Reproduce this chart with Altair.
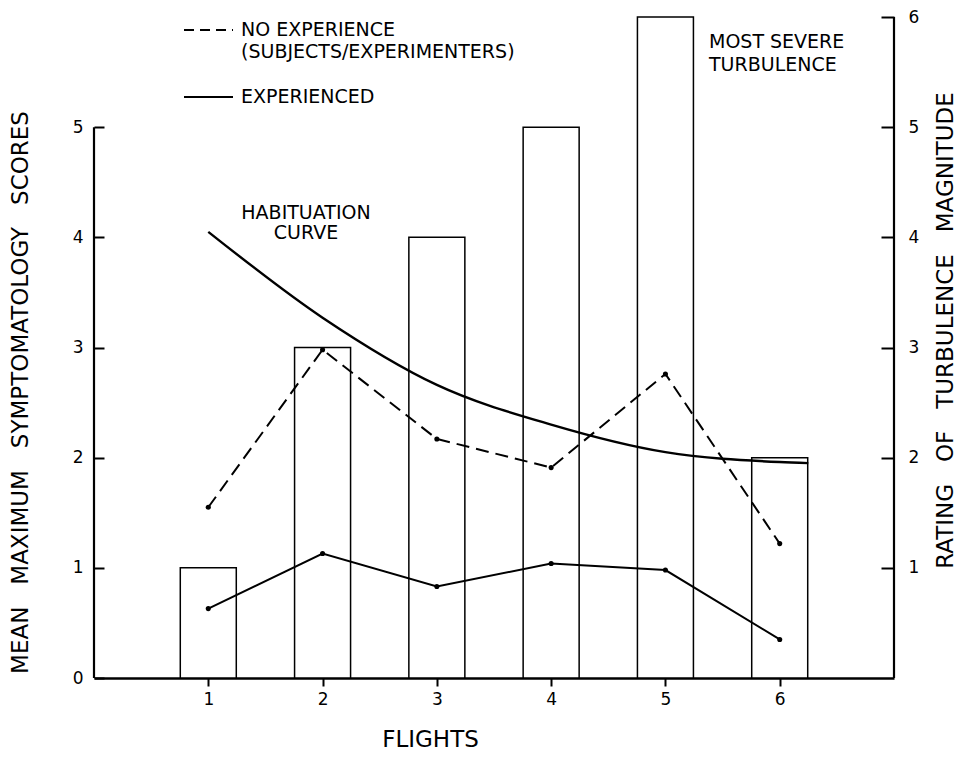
import altair as alt
import pandas as pd

# ---------------- data ----------------
flights = [1, 2, 3, 4, 5, 6]
turbulence_rating = [1, 3, 4, 5, 6, 2]
no_experience = [1.55, 2.98, 2.17, 1.91, 2.76, 1.22]
experienced = [0.63, 1.13, 0.83, 1.04, 0.98, 0.35]
habituation_flights = [1, 2, 3, 4, 5, 6, 6.25]
habituation_scores = [4.05, 3.27, 2.66, 2.30, 2.05, 1.96, 1.95]

x_ticks = [1, 2, 3, 4, 5, 6]
left_ticks = [0, 1, 2, 3, 4, 5]
right_ticks = [1, 2, 3, 4, 5, 6]
x_domain = [0, 7]
left_domain = [0, 6]
right_domain = [0, 6]

LEFT_TITLE = "MEAN\u00a0\u00a0\u00a0MAXIMUM\u00a0\u00a0\u00a0SYMPTOMATOLOGY\u00a0\u00a0\u00a0SCORES"
RIGHT_TITLE = "RATING\u00a0\u00a0\u00a0OF\u00a0\u00a0\u00a0TURBULENCE\u00a0\u00a0\u00a0MAGNITUDE"

FONT = "DejaVu Sans"
BAR_HALF = 0.245

bars_df = pd.DataFrame({"flight": flights, "rating": turbulence_rating})
lines_df = pd.concat([
    pd.DataFrame({"flight": flights, "score": no_experience, "series": "none"}),
    pd.DataFrame({"flight": flights, "score": experienced, "series": "exp"}),
])
hab_df = pd.DataFrame({"flight": habituation_flights, "score": habituation_scores})
left_line_df = pd.DataFrame({"flight": [x_domain[0]] * 2, "score": [left_ticks[0], left_ticks[-1]]})
right_line_df = pd.DataFrame({"flight": [x_domain[1]] * 2, "rating": [right_domain[0], right_domain[1]]})
one = pd.DataFrame({"a": [0]})

# ---------------- scales / axes ----------------
x_scale = alt.Scale(domain=x_domain, nice=False, zero=False)
x_axis = alt.Axis(values=x_ticks, format="d", tickSize=8, tickWidth=2, labelPadding=5,
                  domainWidth=2.5, grid=False, title="FLIGHTS", titleX=336, titleY=61,
                  titleAlign="center", titleBaseline="middle")

left_scale = alt.Scale(domain=left_domain, nice=False)
left_axis = alt.Axis(orient="left", values=left_ticks, format="d", offset=-10, tickSize=10,
                     tickWidth=2, domain=False, labelPadding=11, grid=False,
                     title=LEFT_TITLE, titleX=-84, titleY=375, titleAngle=270,
                     titleAlign="center", titleBaseline="middle")

right_scale = alt.Scale(domain=right_domain, nice=False)
right_axis = alt.Axis(orient="right", values=right_ticks, format="d", offset=-13, tickSize=13,
                      tickWidth=2, domain=False, labelPadding=14, grid=False,
                      title=RIGHT_TITLE, titleX=64, titleY=313, titleAngle=270,
                      titleAlign="center", titleBaseline="middle")


def X(field):
    return alt.X(f"{field}:Q", scale=x_scale, axis=x_axis)


def YL(field):
    return alt.Y(f"{field}:Q", scale=left_scale, axis=left_axis)


def YR(field):
    return alt.Y(f"{field}:Q", scale=right_scale, axis=right_axis)


# ---------------- right-scale group ----------------
bars = alt.Chart(bars_df).transform_calculate(
    x0=f"datum.flight - {BAR_HALF}", x1=f"datum.flight + {BAR_HALF}"
).mark_bar(fill="white", stroke="black", strokeWidth=1.5).encode(
    x=X("x0"), x2=alt.X2("x1:Q"), y=YR("rating"), y2=alt.Y2(datum=0)
)
right_line = alt.Chart(right_line_df).mark_line(color="black", strokeWidth=2.2).encode(
    x=X("flight"), y=YR("rating")
)
right_group = alt.layer(bars, right_line)

# ---------------- left-scale group ----------------
hab = alt.Chart(hab_df).mark_line(color="black", strokeWidth=2.4, interpolate="monotone").encode(
    x=X("flight"), y=YL("score")
)
noexp_line = alt.Chart(lines_df).transform_filter("datum.series == 'none'").mark_line(
    color="black", strokeWidth=2, strokeDash=[13, 7]
).encode(x=X("flight"), y=YL("score"))
exp_line = alt.Chart(lines_df).transform_filter("datum.series == 'exp'").mark_line(
    color="black", strokeWidth=2
).encode(x=X("flight"), y=YL("score"))
pts = alt.Chart(lines_df).mark_circle(color="black", size=26, opacity=1).encode(
    x=X("flight"), y=YL("score")
)
left_line = alt.Chart(left_line_df).mark_line(color="black", strokeWidth=2.2).encode(
    x=X("flight"), y=YL("score")
)


def txt(label, x, y, align="left", size=19):
    return alt.Chart(one).mark_text(font=FONT, fontSize=size, color="black", align=align,
                                    baseline="middle").encode(
        x=alt.value(x), y=alt.value(y), text=alt.value(label))


legend_dash = alt.Chart(one).mark_rule(color="black", strokeWidth=2, strokeDash=[10, 6]).encode(
    x=alt.value(90), x2=alt.value(139), y=alt.value(13))
legend_solid = alt.Chart(one).mark_rule(color="black", strokeWidth=2).encode(
    x=alt.value(90), x2=alt.value(139), y=alt.value(80))

texts = [
    txt("NO EXPERIENCE", 147, 13),
    txt("(SUBJECTS/EXPERIMENTERS)", 147, 35),
    txt("EXPERIENCED", 147, 80),
    txt("MOST SEVERE", 615, 25),
    txt("TURBULENCE", 615, 48),
    txt("HABITUATION", 212, 196, align="center"),
    txt("CURVE", 212, 216, align="center"),
]

left_group = alt.layer(hab, noexp_line, exp_line, pts, left_line, legend_dash, legend_solid, *texts)

chart = alt.layer(right_group, left_group).resolve_scale(y="independent").properties(
    width=800, height=661,
    padding={"left": 86, "top": 9, "right": 62, "bottom": 74},
    autosize="none",
    background="white",
).configure_view(stroke=None).configure_axis(
    labelFont=FONT, labelFontSize=17, labelColor="black",
    titleFont=FONT, titleFontSize=23, titleFontWeight="normal", titleColor="black",
    tickColor="black", domainColor="black",
)

chart.save("out.html", embed_options={"renderer": "svg", "actions": False})
